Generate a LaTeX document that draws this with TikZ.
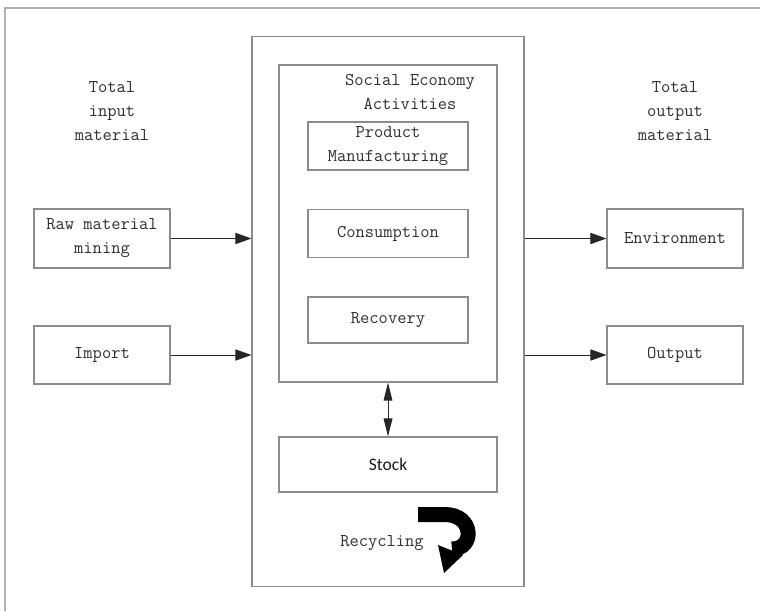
\documentclass[tikz,border=0pt]{standalone}
\usepackage{fontspec}
\newfontfamily\stockfont{Carlito}
\usetikzlibrary{arrows.meta}

\begin{document}
\begin{tikzpicture}[x=0.025cm,y=-0.025cm,
        txt/.style={align=center,text=black!82,font=\ttfamily\fontsize{12.8}{17}\selectfont},
        box/.style={draw=black!45,line width=0.8pt,inner sep=0pt,txt},
        flow/.style={draw=black!85,line width=0.6pt,-{Triangle[length=0.4cm,width=0.28cm]}},
        both/.style={draw=black!85,line width=0.6pt,{Triangle[length=0.45cm,width=0.22cm]}-{Triangle[length=0.45cm,width=0.22cm]}}]

        \useasboundingbox (0,0) rectangle (760,611);
        % frame
        \draw[black!30,line width=1pt] (5,611) -- (5,8) -- (760,8);

        % middle column
        \node[box,minimum width=6.8cm,minimum height=13.725cm] (mid) at (388,311.5) {};
        \node[box,minimum width=5.45cm,minimum height=7.925cm] (sea) at (388,223.5) {};
        \node[txt] (seatitle) at (410,92) {Social Economy\\Activities};
        \node[box,minimum width=4cm,minimum height=1.2cm] (prod) at (388,146) {Product\\Manufacturing};
        \node[box,minimum width=4cm,minimum height=1.18cm] (cons) at (388,233.5) {Consumption};
        \node[box,minimum width=4cm,minimum height=1.15cm] (reco) at (388,320) {Recovery};
        \node[box,minimum width=5.45cm,minimum height=1.375cm,font=\stockfont\fontsize{12.5}{14}\selectfont,text=black!90] (stock) at (388,464.5) {Stock};
        \draw[both] (sea.south) -- (stock.north);

        % recycling
        \node[txt] (recyc) at (382,543) {Recycling};
        \draw[line width=0.375cm] (418,514.5) -- (445,514.5) .. controls (474,514.5) and (475,549) .. (452,549);
        \fill (438,545) -- (463,555) -- (444,573) -- cycle;

        % input side
        \node[txt] (tin) at (112,111) {Total\\input\\material};
        \node[box,minimum width=3.4cm,minimum height=1.475cm] (raw) at (102,238.5) {Raw material\\mining};
        \node[box,minimum width=3.4cm,minimum height=1.45cm] (imp) at (102,355) {Import};
        \draw[flow] (raw) -- (raw -| mid.west);
        \draw[flow] (imp) -- (imp -| mid.west);

        % output side
        \node[txt] (tout) at (675,111) {Total\\output\\material};
        \node[box,minimum width=3.4cm,minimum height=1.475cm] (env) at (675,238.5) {Environment};
        \node[box,minimum width=3.4cm,minimum height=1.45cm] (out) at (675,355) {Output};
        \draw[flow] (env -| mid.east) -- (env);
        \draw[flow] (out -| mid.east) -- (out);
    \end{tikzpicture}
\end{document}
